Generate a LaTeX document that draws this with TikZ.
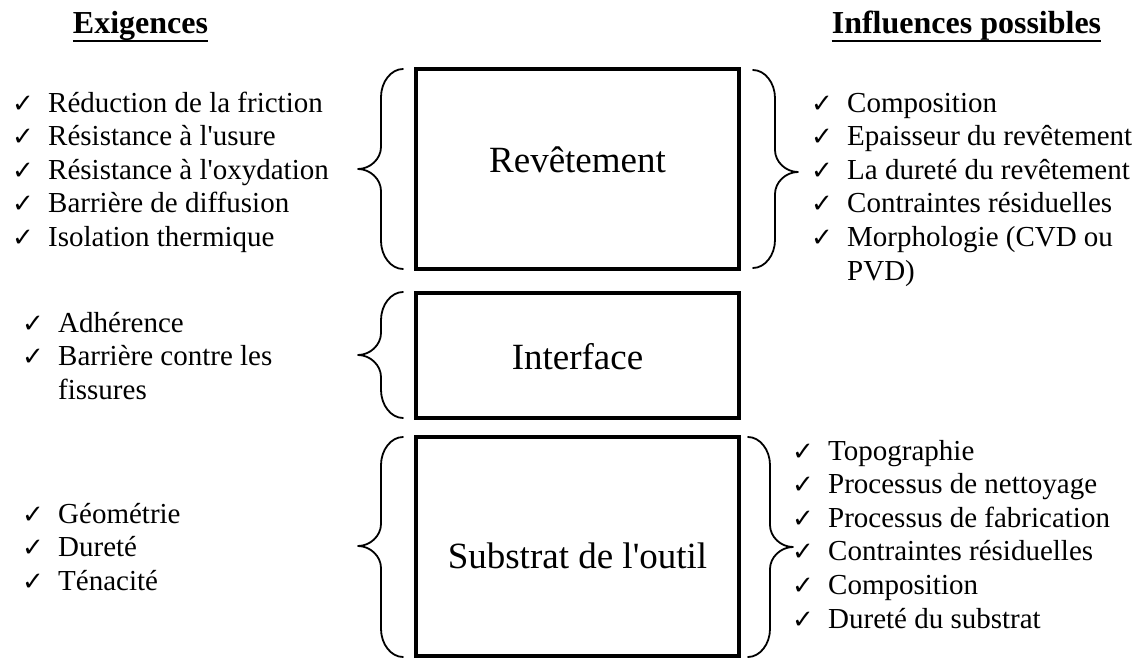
\documentclass[tikz,border=0pt]{standalone}
\usepackage{fontspec}
\setmainfont{Liberation Serif}
\newfontfamily\tickfont{DejaVu Sans}
\usetikzlibrary{calc}

% check mark bullet and the matching indent for continued lines
\newlength\tickw
\setlength\tickw{36pt}
\newcommand\tick{\makebox[\tickw][l]{\tickfont\bfseries\fontsize{26}{26}\selectfont ✓}}
\newcommand\cont{\makebox[\tickw][l]{}}
% straight apostrophe
\newcommand\apos{\textquotesingle}

% curly braces: #1 = x of the two ends, #2 = top y, #3 = bottom y, #4 = y of the tip
\newcommand\curlleft[4]{%
  \draw[curl] (#1,#2) .. controls (#1-12,#2) and (#1-22,#2+13) .. (#1-22,#2+28)
    -- (#1-22,#4-22) .. controls (#1-22,#4-10) and (#1-33,#4) .. (#1-45,#4)
    .. controls (#1-33,#4) and (#1-22,#4+10) .. (#1-22,#4+22)
    -- (#1-22,#3-28) .. controls (#1-22,#3-13) and (#1-12,#3) .. (#1,#3);}
\newcommand\curlright[4]{%
  \draw[curl] (#1,#2) .. controls (#1+12,#2) and (#1+22,#2+13) .. (#1+22,#2+28)
    -- (#1+22,#4-22) .. controls (#1+22,#4-10) and (#1+33,#4) .. (#1+45,#4)
    .. controls (#1+33,#4) and (#1+22,#4+10) .. (#1+22,#4+22)
    -- (#1+22,#3-28) .. controls (#1+22,#3-13) and (#1+12,#3) .. (#1,#3);}

\begin{document}
\begin{tikzpicture}[x=1pt,y=-1pt,
  layer/.style={draw, line width=4pt, minimum width=323pt, inner sep=0pt},
  layername/.style={anchor=base, inner sep=0pt, font=\fontsize{37}{40}\selectfont},
  head/.style={anchor=base, inner sep=0pt, font=\bfseries\fontsize{32}{36}\selectfont},
  uline/.style={line width=2.2pt},
  % anchored at the baseline of the last line
  itemlist/.style={anchor=base west, inner sep=0pt, align=left,
                   font=\fontsize{29}{33.6}\selectfont},
  curl/.style={line width=1.8pt, line cap=round, line join=round}]
\useasboundingbox (0,0) rectangle (1141,659);

% column headings
\node[head] (exig) at (140.5,33) {Exigences};
\node[head] (infl) at (966.5,33) {Influences possibles};
\draw[uline] ([yshift=-8pt]exig.base west) -- ([yshift=-8pt]exig.base east);
\draw[uline] ([yshift=-8pt]infl.base west) -- ([yshift=-8pt]infl.base east);

% the three layers
\node[layer, minimum height=200pt] (rev) at (577.5,169) {};
\node[layer, minimum height=125.5pt] (inter) at (577.5,355.25) {};
\node[layer, minimum height=219pt] (sub) at (577.5,546.5) {};
\node[layername] (revT) at (577.5,172) {Revêtement};
\node[layername] (interT) at (577.5,369) {Interface};
\node[layername] (subT) at (577.5,568) {Substrat de l\apos outil};

% braces
\curlleft{403}{69}{269}{169}
\curlleft{403}{292}{418}{355}
\curlleft{403}{437}{657}{546}
\curlright{753}{70}{268}{172}
\curlright{748}{437}{657}{547}

% requirements
\node[itemlist] (reqRev) at (12,246.4) {\tick Réduction de la friction\\
  \tick Résistance à l\apos usure\\ \tick Résistance à l\apos oxydation\\
  \tick Barrière de diffusion\\ \tick Isolation thermique};
\node[itemlist] (reqInt) at (22,399.2) {\tick Adhérence\\
  \tick Barrière contre les\\ \cont fissures};
\node[itemlist] (reqSub) at (22,590.2) {\tick Géométrie\\ \tick Dureté\\ \tick Ténacité};

% possible influences
\node[itemlist] (infRev) at (811,280) {\tick Composition\\
  \tick Epaisseur du revêtement\\ \tick La dureté du revêtement\\
  \tick Contraintes résiduelles\\ \tick Morphologie (CVD ou\\ \cont PVD)};
\node[itemlist] (infSub) at (792,628) {\tick Topographie\\
  \tick Processus de nettoyage\\ \tick Processus de fabrication\\
  \tick Contraintes résiduelles\\ \tick Composition\\ \tick Dureté du substrat};
\end{tikzpicture}
\end{document}
